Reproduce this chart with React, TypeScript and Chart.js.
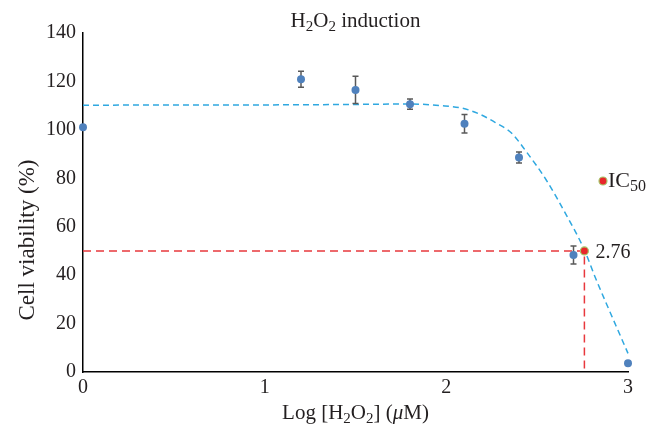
import React, { useEffect, useRef } from "react";
import { Chart, registerables } from "chart.js";

Chart.register(...registerables);

// Observed data: log dose, viability (%) and error
const doseLog = [0, 1.2, 1.5, 1.8, 2.1, 2.4, 2.7, 3.0];
const viability = [101.1, 120.9, 116.5, 110.6, 102.5, 88.6, 48.3, 3.6];
const viabilityErr = [0, 3.3, 5.6, 2.1, 3.8, 2.3, 3.7, 0];

// Fitted curve
const fitX = [0, 1.0, 1.5, 1.8, 1.97, 2.09, 2.18, 2.27, 2.36, 2.44, 2.55, 2.66, 2.76, 2.82, 2.88, 2.96, 3.0];
const fitY = [110.2, 110.3, 110.5, 110.7, 110.0, 108.9, 106.6, 103.0, 98.6, 91.0, 79.3, 64.9, 50.4, 39.0, 28.4, 14.6, 7.7];

// IC50
const ic50X = 2.76;
const ic50Y = 50;
const ic50Label = "2.76";

// Axes
const xMin = 0;
const xMax = 3;
const yMin = 0;
const yMax = 140;
const yStep = 20;

const SERIF = "'Liberation Serif', 'Times New Roman', serif";
const INK = "#231F20";

type Seg = { t: string; size: number; dy?: number; italic?: boolean };

function segWidth(ctx: CanvasRenderingContext2D, segs: Seg[]) {
  let w = 0;
  for (const s of segs) {
    ctx.font = `${s.italic ? "italic " : ""}${s.size}px ${SERIF}`;
    w += ctx.measureText(s.t).width;
  }
  return w;
}

function drawSegs(ctx: CanvasRenderingContext2D, segs: Seg[], x: number, y: number, align: "left" | "center") {
  const w = segWidth(ctx, segs);
  let cx = align === "center" ? x - w / 2 : x;
  ctx.textAlign = "left";
  ctx.textBaseline = "alphabetic";
  ctx.fillStyle = INK;
  for (const s of segs) {
    ctx.font = `${s.italic ? "italic " : ""}${s.size}px ${SERIF}`;
    ctx.fillText(s.t, cx, y + (s.dy || 0));
    cx += ctx.measureText(s.t).width;
  }
}

const textPlugin = {
  id: "richText",
  afterDraw(chart: any) {
    const ctx: CanvasRenderingContext2D = chart.ctx;
    const area = chart.chartArea;
    const xs = chart.scales.x;
    const ys = chart.scales.y;
    ctx.save();
    // title
    drawSegs(
      ctx,
      [
        { t: "H", size: 21 },
        { t: "2", size: 15, dy: 4 },
        { t: "O", size: 21 },
        { t: "2", size: 15, dy: 4 },
        { t: " induction", size: 21 },
      ],
      (area.left + area.right) / 2,
      27,
      "center"
    );
    // x title
    drawSegs(
      ctx,
      [
        { t: "Log [H", size: 21 },
        { t: "2", size: 15, dy: 4 },
        { t: "O", size: 21 },
        { t: "2", size: 15, dy: 4 },
        { t: "] (", size: 21 },
        { t: "\u03BC", size: 21, italic: true },
        { t: "M)", size: 21 },
      ],
      (area.left + area.right) / 2,
      419,
      "center"
    );
    // y title
    ctx.save();
    ctx.translate(26, 240);
    ctx.rotate(-Math.PI / 2);
    drawSegs(ctx, [{ t: "Cell viability (%)", size: 23 }], 0, 8, "center");
    ctx.restore();
    // IC50 value label
    const px = xs.getPixelForValue(ic50X);
    const py = ys.getPixelForValue(ic50Y);
    drawSegs(ctx, [{ t: ic50Label, size: 20 }], px + 11, py + 7, "left");
    // legend
    const lx = 603;
    const ly = 181;
    ctx.beginPath();
    ctx.arc(lx, ly, 4, 0, Math.PI * 2);
    ctx.fillStyle = "#E8262B";
    ctx.fill();
    ctx.lineWidth = 1.2;
    ctx.strokeStyle = "#A6C86A";
    ctx.stroke();
    drawSegs(
      ctx,
      [
        { t: "IC", size: 22 },
        { t: "50", size: 16, dy: 4 },
      ],
      608,
      187,
      "left"
    );
    ctx.restore();
  },
};

const errorBarPlugin = {
  id: "errorBars",
  beforeDatasetDraw(chart: any, args: any) {
    if (args.index !== 1) return;
    const ctx: CanvasRenderingContext2D = chart.ctx;
    const xs = chart.scales.x;
    const ys = chart.scales.y;
    ctx.save();
    ctx.strokeStyle = "#595959";
    ctx.lineWidth = 1.5;
    for (let i = 0; i < doseLog.length; i++) {
      const e = viabilityErr[i];
      if (!e) continue;
      const x = xs.getPixelForValue(doseLog[i]);
      const yt = ys.getPixelForValue(viability[i] + e);
      const yb = ys.getPixelForValue(viability[i] - e);
      ctx.beginPath();
      ctx.moveTo(x, yt);
      ctx.lineTo(x, yb);
      ctx.moveTo(x - 3, yt);
      ctx.lineTo(x + 3, yt);
      ctx.moveTo(x - 3, yb);
      ctx.lineTo(x + 3, yb);
      ctx.stroke();
    }
    ctx.restore();
  },
};

export default function App() {
  const ref = useRef<HTMLCanvasElement>(null);
  useEffect(() => {
    const canvas = ref.current!;
    const chart = new Chart(canvas, {
      type: "scatter",
      data: {
        datasets: [
          {
            label: "IC50",
            data: [{ x: ic50X, y: ic50Y }],
            pointRadius: 4,
            backgroundColor: "#E8262B",
            borderColor: "#A6C86A",
            borderWidth: 1.2,
            showLine: false,
            clip: false,
          },
          {
            label: "Viability",
            data: doseLog.map((x, i) => ({ x, y: viability[i] })),
            pointRadius: 4,
            backgroundColor: "#4F81BD",
            borderWidth: 0,
            showLine: false,
            clip: false,
          },
          {
            label: "Fit",
            data: fitX.map((x, i) => ({ x, y: fitY[i] })),
            showLine: true,
            pointRadius: 0,
            borderColor: "#2FA8E0",
            borderWidth: 1.5,
            borderDash: [6, 4],
            cubicInterpolationMode: "monotone",
            fill: false,
            clip: false,
          },
          {
            label: "IC50 guide",
            data: [
              { x: xMin, y: ic50Y },
              { x: ic50X, y: ic50Y },
              { x: ic50X, y: yMin },
            ],
            showLine: true,
            pointRadius: 0,
            borderColor: "#E8383D",
            borderWidth: 1.5,
            borderDash: [8, 5],
            tension: 0,
            fill: false,
          },
        ],
      },
      options: {
        responsive: false,
        animation: false,
        devicePixelRatio: 1,
        layout: { padding: { top: 33, right: 30, left: 0, bottom: 0 } },
        plugins: {
          legend: { display: false },
          title: { display: false },
          tooltip: { enabled: false },
        },
        scales: {
          x: {
            type: "linear",
            min: xMin,
            max: xMax,
            grid: { display: false, drawTicks: false },
            border: { display: true, color: "#000", width: 1.5 },
            ticks: {
              stepSize: 1,
              padding: 4,
              color: INK,
              font: { family: SERIF, size: 20 },
            },
            afterFit: (s: any) => {
              s.height = 56;
            },
          },
          y: {
            type: "linear",
            min: yMin,
            max: yMax,
            grid: { display: false, drawTicks: false },
            border: { display: true, color: "#000", width: 1.5 },
            ticks: {
              stepSize: yStep,
              padding: 7,
              color: INK,
              font: { family: SERIF, size: 20 },
            },
            afterFit: (s: any) => {
              s.width = 83;
            },
          },
        },
      },
      plugins: [errorBarPlugin, textPlugin],
    } as any);
    return () => chart.destroy();
  }, []);
  return (
    <div style={{ position: "fixed", left: 0, top: 0, width: 658, height: 428, background: "#fff" }}>
      <canvas ref={ref} width={658} height={428} style={{ width: 658, height: 428, display: "block" }} />
    </div>
  );
}
